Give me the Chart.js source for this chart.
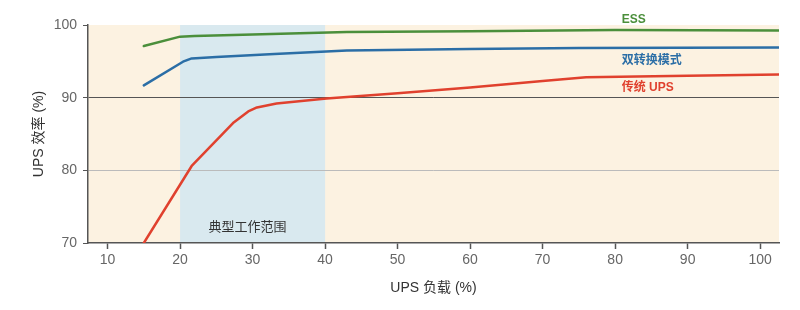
<!DOCTYPE html>
<html>
<head>
<meta charset="utf-8">
<script src="https://cdn.jsdelivr.net/npm/chart.js@4"></script>
<style>
  html, body { margin: 0; padding: 0; background: #fff; }
  #wrap { width: 800px; height: 310px; }
</style>
</head>
<body>
<div id="wrap"><canvas id="upsChart"></canvas></div>
<script>
// load (%) and efficiency (%)
var essLoad = [15, 20, 22, 30, 43, 60, 80, 102.6];
var essEff  = [97.1, 98.4, 98.5, 98.7, 99.05, 99.15, 99.3, 99.25];
var dblLoad = [15, 20.4, 21.6, 25, 33, 43, 60, 75, 102.6];
var dblEff  = [91.7, 94.95, 95.4, 95.6, 96.0, 96.5, 96.7, 96.85, 96.9];
var oldLoad = [15, 21.6, 27.3, 29.4, 30.6, 33.3, 40.2, 50, 60, 70, 76, 90, 102.6];
var oldEff  = [70, 80.6, 86.5, 88.1, 88.65, 89.2, 89.9, 90.6, 91.4, 92.3, 92.8, 93.0, 93.2];
var xTicks = [10, 20, 30, 40, 50, 60, 70, 80, 90, 100];
var yTicks = [70, 80, 90, 100];
var bandFrom = 20, bandTo = 40;

var font = '"Liberation Sans", "Noto Sans CJK SC", sans-serif';

function pts(xs, ys) {
  return xs.map(function (x, i) { return { x: x, y: ys[i] }; });
}

var bgPlugin = {
  id: 'bg',
  beforeDraw: function (chart) {
    var c = chart.ctx, a = chart.chartArea, xs = chart.scales.x;
    c.save();
    c.fillStyle = '#fcf2e1';
    c.fillRect(a.left, a.top, a.right - a.left, a.bottom - a.top);
    var x1 = xs.getPixelForValue(bandFrom), x2 = xs.getPixelForValue(bandTo);
    c.fillStyle = '#d9e9ef';
    c.fillRect(x1, a.top, x2 - x1, a.bottom - a.top);
    c.restore();
  }
};

var labelPlugin = {
  id: 'labels',
  afterDraw: function (chart) {
    var c = chart.ctx, xs = chart.scales.x, ys = chart.scales.y;
    c.save();
    c.textBaseline = 'middle';
    c.textAlign = 'left';
    c.font = 'bold 12px ' + font;
    var lx = xs.getPixelForValue(80.9);
    c.fillStyle = '#4b8f3b';
    c.fillText('ESS', lx, ys.getPixelForValue(100.7));
    c.fillStyle = '#2b6ea6';
    c.fillText('双转换模式', lx, ys.getPixelForValue(95.1));
    c.fillStyle = '#e0412e';
    c.fillText('传统 UPS', lx, ys.getPixelForValue(91.4));
    c.font = '13px ' + font;
    c.fillStyle = '#333';
    c.textAlign = 'center';
    c.fillText('典型工作范围', xs.getPixelForValue(29.3), ys.getPixelForValue(72.2));
    c.restore();
  }
};

var ctx = document.getElementById('upsChart').getContext('2d');
var chart = new Chart(ctx, {
  type: 'line',
  data: {
    datasets: [{
      label: 'ESS',
      data: pts(essLoad, essEff),
      borderColor: '#4b8f3b',
      borderWidth: 2.5
    }, {
      label: '双转换模式',
      data: pts(dblLoad, dblEff),
      borderColor: '#2b6ea6',
      borderWidth: 2.5
    }, {
      label: '传统 UPS',
      data: pts(oldLoad, oldEff),
      borderColor: '#e0412e',
      borderWidth: 2.5
    }]
  },
  options: {
    responsive: true,
    maintainAspectRatio: false,
    animation: false,
    layout: { padding: { top: 25, right: 21, left: 0, bottom: 0 } },
    elements: { point: { radius: 0 }, line: { tension: 0, borderJoinStyle: 'round', borderCapStyle: 'round' } },
    plugins: { legend: { display: false }, tooltip: { enabled: false } },
    scales: {
      x: {
        type: 'linear',
        min: 7.3,
        max: 102.6,
        afterBuildTicks: function (s) { s.ticks = xTicks.map(function (v) { return { value: v }; }); },
        afterFit: function (s) { s.height = 67; },
        border: { color: '#555', width: 1.5 },
        grid: { drawOnChartArea: false, tickLength: 6, tickColor: '#555', tickWidth: 1.5 },
        ticks: { color: '#666', padding: 3, font: { size: 14, family: font } },
        title: { display: true, text: 'UPS 负载 (%)', color: '#333', padding: { top: 0, bottom: 13 }, font: { size: 14, family: font } }
      },
      y: {
        min: 70,
        max: 100,
        afterBuildTicks: function (s) { s.ticks = yTicks.map(function (v) { return { value: v }; }); },
        afterFit: function (s) { s.width = 88; },
        border: { color: '#555', width: 1.5 },
        grid: {
          tickLength: 5,
          tickColor: '#555',
          color: function (c) {
            if (c.tick && c.tick.value === 90) return '#555';
            if (c.tick && c.tick.value === 80) return '#bbb';
            return 'rgba(0,0,0,0)';
          }
        },
        ticks: { color: '#666', padding: 6, font: { size: 14, family: font } },
        title: { display: true, text: 'UPS 效率 (%)', color: '#333', padding: { top: 31, bottom: 0 }, font: { size: 14, family: font } }
      }
    }
  },
  plugins: [bgPlugin, labelPlugin]
});
</script>
</body>
</html>
